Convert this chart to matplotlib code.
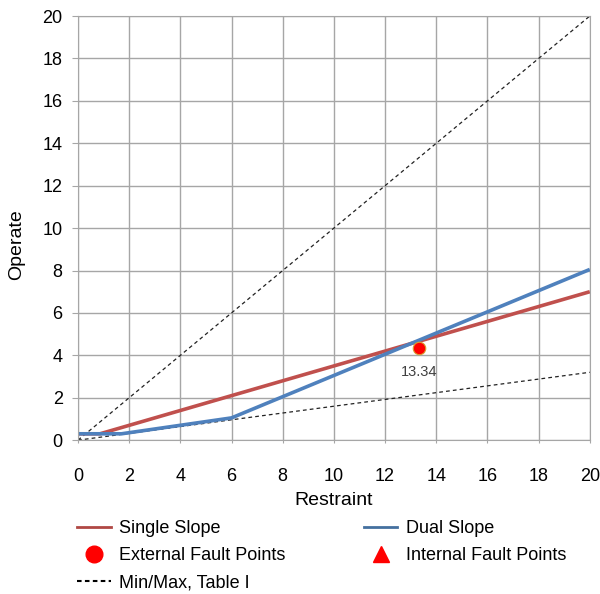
import matplotlib
matplotlib.use("Agg")
import matplotlib.pyplot as plt
from matplotlib.lines import Line2D

plt.rcParams['font.family'] = ['Liberation Sans', 'DejaVu Sans']
plt.rcParams['xtick.major.pad'] = 18
plt.rcParams['ytick.major.pad'] = 6.5
plt.rcParams['xtick.major.size'] = 2
plt.rcParams['ytick.major.size'] = 4.5
plt.rcParams['xtick.labelsize'] = 13
plt.rcParams['ytick.labelsize'] = 13

# characteristic breakpoints (restraint, operate)
single_x = [0, 0.86, 20]
single_y = [0.3, 0.3, 7.0]
dual_x = [0, 1.7, 6, 20]
dual_y = [0.3, 0.3, 1.05, 8.05]
min_x = [0, 20]
min_y = [0, 3.2]
max_x = [0, 20]
max_y = [0, 20]
ext_x = [13.34]
ext_y = [4.35]
ext_labels = ["13.34"]

red = '#C0504D'
blue = '#4F81BD'
grid_c = '#A6A6A6'
plt.rcParams['xtick.color'] = grid_c
plt.rcParams['ytick.color'] = grid_c
plt.rcParams['xtick.labelcolor'] = 'black'
plt.rcParams['ytick.labelcolor'] = 'black'

fig = plt.figure(figsize=(6, 5.94), dpi=100)
ax = fig.add_axes([0.13, 0.259, 0.853, 0.714])

ax.plot(max_x, max_y, color='#222222', ls=(0, (3, 2.5)), lw=0.9)
ax.plot(min_x, min_y, color='#222222', ls=(0, (3, 2.5)), lw=0.9)
ax.plot(single_x, single_y, color=red, lw=2.6, solid_capstyle='butt')
ax.plot(dual_x, dual_y, color=blue, lw=2.6, solid_capstyle='butt')
ax.plot(ext_x, ext_y, 'o', color='red', markersize=9, markeredgecolor='#D8A030', markeredgewidth=0.8)
for x, y, t in zip(ext_x, ext_y, ext_labels):
    ax.annotate(t, (x, y), xytext=(0, -17), textcoords='offset points',
                ha='center', va='center', fontsize=10.5, color='#404040')

ax.set_xlim(0, 20)
ax.set_ylim(0, 20)
ax.set_xticks(range(0, 21, 2))
ax.set_yticks(range(0, 21, 2))
ax.grid(True, color=grid_c, lw=1)
ax.set_axisbelow(True)
for s in ax.spines.values():
    s.set_color(grid_c)
ax.set_xlabel('Restraint', fontsize=14)
ax.set_ylabel('Operate', fontsize=14)
ax.xaxis.set_label_coords(0.5, -0.123)
ax.yaxis.set_label_coords(-0.104, 0.46)

handles = [
    Line2D([], [], color='#B04844', lw=2.0),
    Line2D([], [], marker='o', ls='none', color='red', markersize=12),
    Line2D([], [], color='black', ls=(0, (2.2, 1.6)), lw=1.5),
    Line2D([], [], color='#44709F', lw=2.0),
    Line2D([], [], marker='^', ls='none', color='red', markersize=12),
]
labels = ['Single Slope', 'External Fault Points', 'Min/Max, Table I',
          'Dual Slope', 'Internal Fault Points']
fig.legend(handles, labels, ncol=2, frameon=False, fontsize=13,
           loc='upper left', bbox_to_anchor=(0.117, 0.137),
           handlelength=1.85, handletextpad=0.46, columnspacing=4.35,
           labelspacing=0.58, borderaxespad=0)

fig.savefig('out.png', dpi=100)
